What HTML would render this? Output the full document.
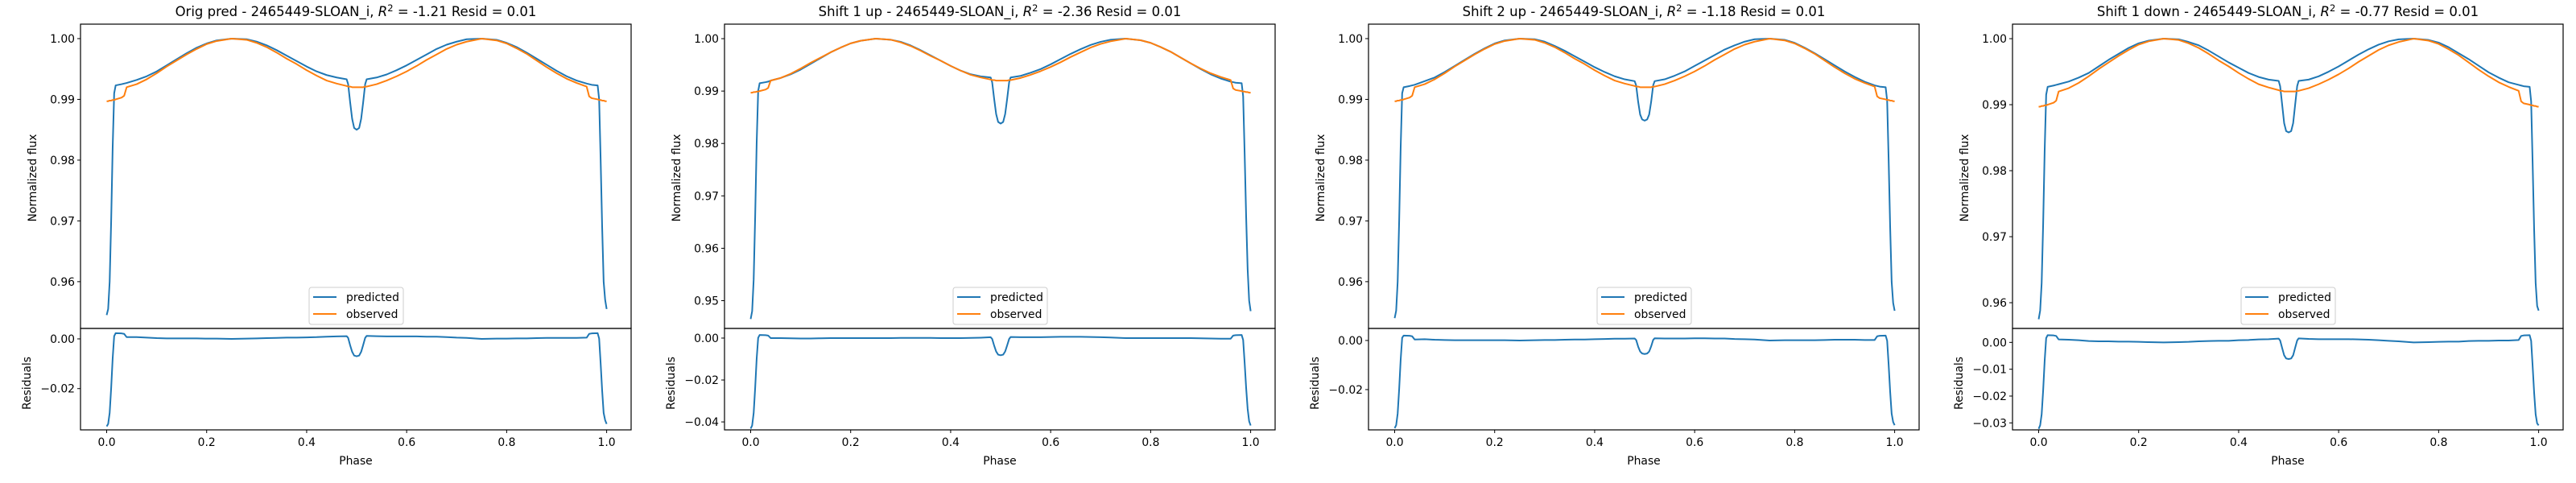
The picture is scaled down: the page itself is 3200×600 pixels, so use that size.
<!DOCTYPE html>
<html><head><meta charset="utf-8"><style>
html,body{margin:0;padding:0;background:#fff;}
svg{display:block;font-family:"DejaVu Sans","Liberation Sans",sans-serif;}
</style></head><body>
<svg id="fig" width="3200" height="600" viewBox="0 0 3200 600" xmlns="http://www.w3.org/2000/svg"></svg>
<script>
const phase=[0,0.003,0.006,0.009,0.012,0.015,0.018,0.03,0.035,0.04,0.06,0.08,0.10,0.12,0.14,0.16,0.18,0.20,0.22,0.25,0.28,0.30,0.32,0.34,0.36,0.38,0.40,0.42,0.44,0.46,0.48,0.483,0.487,0.491,0.495,0.5,0.505,0.509,0.513,0.517,0.52,0.54,0.56,0.58,0.60,0.62,0.64,0.66,0.68,0.70,0.72,0.75,0.78,0.80,0.82,0.84,0.86,0.88,0.90,0.92,0.94,0.96,0.965,0.97,0.982,0.985,0.988,0.991,0.994,0.997,1.0];
const observed=[0.9897,0.9897,0.9898,0.9898,0.9899,0.9899,0.9900,0.9903,0.9906,0.9920,0.9925,0.9933,0.9943,0.9954,0.9964,0.9974,0.9983,0.9991,0.9996,1.0000,0.9998,0.9993,0.9986,0.9977,0.9967,0.9958,0.9948,0.9939,0.9931,0.9926,0.9922,0.9921,0.9921,0.9920,0.9920,0.9920,0.9920,0.9920,0.9920,0.9921,0.9921,0.9925,0.9931,0.9938,0.9946,0.9955,0.9965,0.9974,0.9983,0.9990,0.9995,1.0000,0.9997,0.9992,0.9984,0.9975,0.9964,0.9953,0.9943,0.9934,0.9927,0.9921,0.9905,0.9902,0.9900,0.9899,0.9899,0.9898,0.9898,0.9897,0.9897];
const predOrig=[0.9545,0.9555,0.9600,0.9700,0.9820,0.9910,0.9923,0.9925,0.9926,0.9927,0.9932,0.9938,0.9946,0.9956,0.9966,0.9976,0.9985,0.9992,0.9997,1.0000,0.9999,0.9995,0.9989,0.9981,0.9972,0.9963,0.9954,0.9946,0.9940,0.9936,0.9933,0.9925,0.9895,0.9868,0.9853,0.9850,0.9853,0.9868,0.9895,0.9925,0.9933,0.9936,0.9941,0.9948,0.9956,0.9965,0.9974,0.9983,0.9990,0.9995,0.9999,1.0000,0.9998,0.9993,0.9986,0.9977,0.9967,0.9957,0.9947,0.9938,0.9931,0.9926,0.9925,0.9924,0.9923,0.9900,0.9800,0.9690,0.9600,0.9570,0.9555];
const predUp1=[0.9465,0.9480,0.9540,0.9660,0.9800,0.9900,0.9915,0.9917,0.9918,0.9920,0.9925,0.9932,0.9941,0.9952,0.9963,0.9974,0.9983,0.9991,0.9996,1.0000,0.9998,0.9994,0.9987,0.9978,0.9968,0.9958,0.9948,0.9939,0.9932,0.9928,0.9926,0.9917,0.9885,0.9856,0.9841,0.9838,0.9841,0.9856,0.9885,0.9917,0.9926,0.9929,0.9935,0.9942,0.9951,0.9961,0.9971,0.9980,0.9988,0.9994,0.9998,1.0000,0.9997,0.9992,0.9984,0.9975,0.9964,0.9953,0.9942,0.9932,0.9924,0.9918,0.9917,0.9916,0.9915,0.9890,0.9780,0.9660,0.9560,0.9500,0.9480];
const predUp2=[0.9540,0.9552,0.9600,0.9700,0.9820,0.9910,0.9920,0.9922,0.9923,0.9924,0.9930,0.9936,0.9945,0.9955,0.9965,0.9975,0.9984,0.9992,0.9997,1.0000,0.9999,0.9995,0.9988,0.9980,0.9971,0.9962,0.9953,0.9945,0.9938,0.9933,0.9930,0.9923,0.9896,0.9875,0.9867,0.9865,0.9867,0.9875,0.9896,0.9923,0.9930,0.9933,0.9939,0.9946,0.9955,0.9964,0.9973,0.9982,0.9989,0.9995,0.9999,1.0000,0.9998,0.9993,0.9985,0.9976,0.9966,0.9956,0.9946,0.9937,0.9929,0.9923,0.9922,0.9921,0.9920,0.9898,0.9800,0.9690,0.9600,0.9565,0.9552];
const predDown1=[0.9575,0.9588,0.9630,0.9720,0.9830,0.9915,0.9927,0.9929,0.9930,0.9931,0.9935,0.9941,0.9948,0.9958,0.9968,0.9977,0.9986,0.9993,0.9997,1.0000,0.9999,0.9995,0.9990,0.9982,0.9973,0.9964,0.9956,0.9948,0.9942,0.9938,0.9936,0.9928,0.9900,0.9872,0.9860,0.9858,0.9860,0.9872,0.9900,0.9928,0.9936,0.9938,0.9943,0.9950,0.9958,0.9967,0.9976,0.9984,0.9991,0.9996,0.9999,1.0000,0.9998,0.9994,0.9987,0.9978,0.9969,0.9959,0.9949,0.9941,0.9934,0.9930,0.9929,0.9928,0.9927,0.9905,0.9810,0.9710,0.9630,0.9595,0.9588];
const titles=["Orig pred","Shift 1 up","Shift 2 up","Shift 1 down"];
const r2Values=["-1.21","-2.36","-1.18","-0.77"];
const residText=["0.01","0.01","0.01","0.01"];
const xTicks=[0,0.2,0.4,0.6,0.8,1.0];
const fluxTicks1=[0.96,0.97,0.98,0.99,1.00];
const fluxTicks2=[0.95,0.96,0.97,0.98,0.99,1.00];
const fluxTicks3=[0.96,0.97,0.98,0.99,1.00];
const fluxTicks4=[0.96,0.97,0.98,0.99,1.00];
const residTicks1=[-0.02,0.00];
const residTicks2=[-0.04,-0.02,0.00];
const residTicks3=[-0.02,0.00];
const residTicks4=[-0.03,-0.02,-0.01,0.00];
const fluxRanges=[[0.9523,1.00238],[0.9447,1.00277],[0.9523,1.00238],[0.9561,1.0022]];
const residRanges=[[-0.0366,0.0042],[-0.0438,0.0046],[-0.0364,0.0049],[-0.0326,0.0052]];

const NS="http://www.w3.org/2000/svg";
const svg=document.getElementById('fig');
function mk(tag,attrs,parent){const e=document.createElementNS(NS,tag);for(const k in attrs)e.setAttribute(k,attrs[k]);(parent||svg).appendChild(e);return e;}
const preds=[predOrig,predUp1,predUp2,predDown1];
const fTicks=[fluxTicks1,fluxTicks2,fluxTicks3,fluxTicks4];
const rTicks=[residTicks1,residTicks2,residTicks3,residTicks4];
const BLUE="#1f77b4",ORANGE="#ff7f0e";

for(let p=0;p<4;p++){
  const off=800*p, L=100+off, R=784+off, T=30, M=408, B=534;
  const g=mk('g',{});
  
  
  const x0=132.5+off, x1=753.6+off;
  const xs=v=>x0+(x1-x0)*v;
  const [fmin,fmax]=fluxRanges[p];
  const ys=v=>T+(fmax-v)/(fmax-fmin)*(M-T);
  const [rmin,rmax]=residRanges[p];
  const yr=v=>M+(rmax-v)/(rmax-rmin)*(B-M);
  // title
  const t=mk('text',{x:(L+R)/2,y:20,'text-anchor':'middle','font-size':'16.5'},g);
  
  
  t.innerHTML=titles[p]+' - 2465449-SLOAN_i, <tspan font-style="italic">R</tspan><tspan dy="-6" font-size="11.5">2</tspan><tspan dy="6"> = '+r2Values[p]+' Resid = '+residText[p]+'</tspan>';
  // clip
  const cid='clip'+p, cid2='clipr'+p;
  const cp=mk('clipPath',{id:cid},g); mk('rect',{x:L,y:T,width:R-L,height:M-T},cp);
  const cp2=mk('clipPath',{id:cid2},g); mk('rect',{x:L,y:M,width:R-L,height:B-M},cp2);
  // series
  const pred=preds[p];
  let dP='',dO='',dR='';
  for(let i=0;i<phase.length;i++){
    const c=i?'L':'M';
    dP+=c+xs(phase[i]).toFixed(2)+','+ys(pred[i]).toFixed(2);
    dO+=c+xs(phase[i]).toFixed(2)+','+ys(observed[i]).toFixed(2);
    dR+=c+xs(phase[i]).toFixed(2)+','+yr(pred[i]-observed[i]).toFixed(2);
  }
  const lp=mk('path',{d:dP,fill:'none',stroke:BLUE,'stroke-width':2,'clip-path':'url(#'+cid+')','stroke-linejoin':'round'},g);
  
  
  const lo=mk('path',{d:dO,fill:'none',stroke:ORANGE,'stroke-width':2,'clip-path':'url(#'+cid+')','stroke-linejoin':'round'},g);
  
  
  const lr=mk('path',{d:dR,fill:'none',stroke:BLUE,'stroke-width':2,'clip-path':'url(#'+cid2+')','stroke-linejoin':'round'},g);
  
  
  // frames
  const f1=mk('rect',{x:L,y:T,width:R-L,height:M-T,fill:'none',stroke:'#000','stroke-width':1.2},g);
  
  
  const f2=mk('rect',{x:L,y:M,width:R-L,height:B-M,fill:'none',stroke:'#000','stroke-width':1.2},g);
  
  
  // flux ticks
  fTicks[p].forEach(v=>{
    const y=ys(v);
    mk('line',{x1:L-4,x2:L,y1:y,y2:y,stroke:'#000','stroke-width':1},g);
    const tl=mk('text',{x:L-7,y:y+5,'text-anchor':'end','font-size':'13.9'},g);
    
    
    tl.textContent=v.toFixed(2);
  });
  rTicks[p].forEach(v=>{
    const y=yr(v);
    mk('line',{x1:L-4,x2:L,y1:y,y2:y,stroke:'#000','stroke-width':1},g);
    const tl=mk('text',{x:L-7,y:y+5,'text-anchor':'end','font-size':'13.9'},g);
    
    
    tl.textContent=(v<0?'\u2212':'')+Math.abs(v).toFixed(2);
  });
  xTicks.forEach(v=>{
    const x=xs(v);
    mk('line',{x1:x,x2:x,y1:B,y2:B+4,stroke:'#000','stroke-width':1},g);
    const tl=mk('text',{x:x,y:B+20,'text-anchor':'middle','font-size':'13.9'},g);
    
    
    tl.textContent=v.toFixed(1);
  });
  // axis labels
  const yl=mk('text',{x:0,y:0,'text-anchor':'middle','font-size':'13.9',transform:'translate('+(45+off)+',221) rotate(-90)'},g);
  
  
  yl.textContent='Normalized flux';
  const rl=mk('text',{x:0,y:0,'text-anchor':'middle','font-size':'13.9',transform:'translate('+(38+off)+',476) rotate(-90)'},g);
  
  
  rl.textContent='Residuals';
  const xl=mk('text',{x:(L+R)/2,y:577,'text-anchor':'middle','font-size':'13.9'},g);
  
  
  xl.textContent='Phase';
  // legend
  const lg=mk('g',{},g);
  
  
  mk('rect',{x:384+off,y:357,width:117,height:46,rx:3,fill:'#fff','fill-opacity':0.8,stroke:'#ccc','stroke-width':1},lg);
  mk('line',{x1:389+off,x2:418+off,y1:369,y2:369,stroke:BLUE,'stroke-width':2},lg);
  mk('line',{x1:389+off,x2:418+off,y1:390,y2:390,stroke:ORANGE,'stroke-width':2},lg);
  const e1=mk('text',{x:430+off,y:374,'font-size':'13.9'},lg);
  
  
  e1.textContent='predicted';
  const e2=mk('text',{x:430+off,y:395,'font-size':'13.9'},lg);
  
  
  e2.textContent='observed';
}
</script>
</body></html>
